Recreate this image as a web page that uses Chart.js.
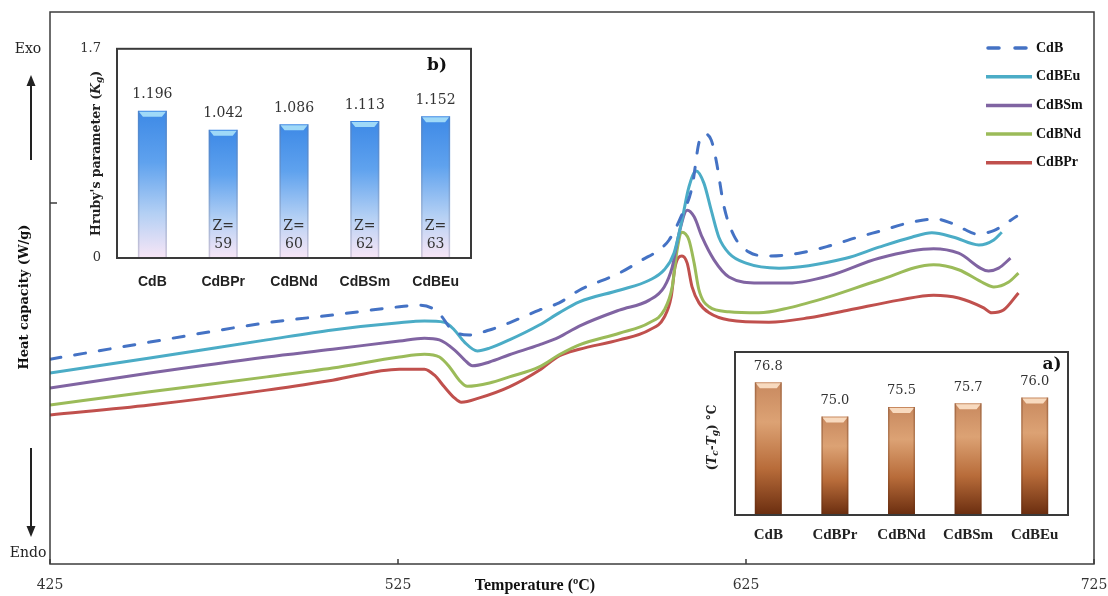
<!DOCTYPE html>
<html>
<head>
<meta charset="utf-8">
<title>DSC curves</title>
<script src="https://cdn.jsdelivr.net/npm/chart.js@4.4.1/dist/chart.umd.min.js"></script>
<style>
  body { margin: 0; background: #fff; }
  #wrap { position: relative; width: 1108px; height: 596px; }
  #wrap canvas { position: absolute; }
</style>
</head>
<body>
<div id="wrap">
  <canvas id="dscChart" width="1108" height="596" style="left:0;top:0"></canvas>
  <canvas id="hrubyChart" width="405" height="275" style="left:75px;top:25px"></canvas>
  <canvas id="stabilityChart" width="380" height="210" style="left:700px;top:340px"></canvas>
</div>
<script>
// ---- data (heat flow in arbitrary units) ----
const temperatureTicks = [425, 525, 625, 725];
const heatTickMarks = [65.4];

const cdbTemp = [425, 453.7, 487.3, 506.2, 525.4, 531.2, 534.6, 537.5, 539.8, 542.6, 545.5, 551.3, 557.0, 565.6, 571.3, 577.1, 588.6, 595.2, 600.0, 602.9, 606.3, 609.5, 611.5, 613.2, 615.0, 616.4, 618.7, 621.6, 625.9, 631.6, 640.2, 648.8, 656.6, 664.0, 671.8, 679.5, 683.8, 687.5, 691.3, 696.2, 702.8];
const cdbHeat = [37.1, 40.2, 43.7, 45.1, 46.6, 46.9, 46.4, 44.9, 42.9, 41.7, 41.5, 42.4, 43.7, 46.0, 47.3, 49.6, 52.7, 55.1, 56.9, 58.7, 62.9, 68.3, 76.4, 77.9, 76.8, 73.2, 64.7, 59.4, 56.5, 55.8, 56.3, 57.6, 59.1, 60.4, 61.8, 62.5, 61.8, 60.7, 59.8, 60.4, 63.0];

const euTemp = [425, 453.7, 487.3, 506.2, 525.4, 532.6, 538.3, 541.2, 544.1, 547.8, 551.3, 557.0, 565.6, 571.3, 577.1, 588.6, 597.2, 601.5, 604.3, 606.6, 608.6, 610.7, 612.9, 615.0, 617.2, 620.1, 625.0, 634.5, 653.7, 663.2, 672.6, 678.4, 684.7, 691.9, 696.2, 698.5];
const euHeat = [34.6, 37.3, 40.6, 42.4, 43.7, 44.0, 43.8, 42.4, 40.2, 38.6, 39.1, 40.6, 43.3, 45.5, 47.5, 49.6, 51.4, 53.3, 56.3, 62.3, 68.3, 71.2, 69.0, 64.1, 59.2, 56.3, 54.5, 53.6, 55.4, 57.4, 59.2, 60.0, 59.2, 57.8, 58.7, 60.1];

const smTemp = [425, 453.7, 487.3, 506.2, 525.4, 532.6, 536.9, 541.2, 544.1, 546.4, 551.3, 557.0, 565.6, 571.3, 577.1, 588.6, 597.2, 601.5, 603.8, 605.8, 608.1, 610.1, 612.4, 615.8, 620.1, 628.7, 637.3, 648.8, 663.2, 678.9, 686.1, 694.7, 697.6, 701.0];
const smHeat = [31.9, 34.6, 37.5, 38.9, 40.4, 40.9, 40.6, 38.8, 37.0, 35.9, 36.6, 37.9, 39.7, 41.1, 43.1, 46.0, 47.8, 50.2, 53.8, 60.0, 64.1, 62.9, 59.2, 55.1, 52.0, 50.9, 50.9, 52.2, 55.4, 57.1, 56.3, 53.1, 53.6, 55.4];

const ndTemp = [425, 453.7, 487.3, 506.2, 525.4, 532.6, 536.9, 539.8, 542.6, 544.9, 551.3, 557.0, 565.6, 571.3, 577.1, 588.6, 597.2, 601.5, 603.8, 605.2, 606.6, 608.6, 610.1, 611.5, 614.4, 620.1, 628.7, 637.3, 648.8, 663.2, 678.9, 686.1, 693.3, 696.2, 700.5, 703.3];
const ndHeat = [28.8, 31.2, 33.9, 35.5, 37.5, 38.0, 37.5, 35.7, 33.3, 32.2, 32.8, 33.9, 35.7, 37.9, 39.7, 41.8, 43.7, 46.0, 50.2, 56.9, 60.1, 58.7, 54.5, 49.6, 46.6, 45.7, 45.5, 46.4, 48.4, 51.4, 54.2, 53.3, 50.9, 50.2, 51.1, 52.7];

const prTemp = [425, 453.7, 487.3, 506.2, 525.4, 532.6, 535.5, 538.3, 541.2, 543.2, 548.4, 557.0, 565.6, 571.3, 577.1, 588.6, 597.2, 601.5, 603.5, 604.6, 606.6, 608.1, 609.5, 611.5, 614.4, 620.1, 631.6, 643.1, 654.6, 668.9, 678.9, 686.1, 693.3, 695.6, 699.0, 703.3];
const prHeat = [27.0, 28.8, 31.5, 33.3, 35.3, 35.3, 34.2, 32.1, 30.1, 29.3, 30.1, 32.1, 35.1, 37.7, 38.9, 40.6, 42.4, 44.7, 48.4, 53.8, 55.8, 54.5, 50.2, 47.3, 45.5, 44.2, 43.8, 44.6, 46.0, 47.8, 48.7, 48.2, 46.4, 45.5, 46.0, 49.1];

// insets
const glassLabels = ['CdB', 'CdBPr', 'CdBNd', 'CdBSm', 'CdBEu'];
const hrubyValues = [1.196, 1.042, 1.086, 1.113, 1.152];
const hrubyTicks = [0, 1.7];
const zNumbers = [null, 59, 60, 62, 63];
const stabilityValues = [76.8, 75.0, 75.5, 75.7, 76.0];

const SERIF = "'DejaVu Serif', serif";
const TIMES = "'Liberation Serif', serif";

function toPoints(xs, ys) {
    return xs.map((x, i) => ({ x: x, y: ys[i] }));
}

function series(label, xs, ys, color, dash) {
    return {
        label: label,
        data: toPoints(xs, ys),
        borderColor: color,
        borderWidth: 3,
        borderDash: dash || [],
        borderCapStyle: dash ? 'round' : 'butt',
        pointRadius: 0,
        cubicInterpolationMode: 'monotone',
        fill: false
    };
}

function drawArrow(ctx, x, from, tip) {
    const dir = Math.sign(tip - from);
    ctx.beginPath();
    ctx.moveTo(x, from);
    ctx.lineTo(x, tip - dir * 8);
    ctx.stroke();
    ctx.beginPath();
    ctx.moveTo(x, tip);
    ctx.lineTo(x - 4.5, tip - dir * 11);
    ctx.lineTo(x + 4.5, tip - dir * 11);
    ctx.closePath();
    ctx.fill();
}

// text made of parts (for subscripts), optionally rotated, centred on cx,cy
function drawRich(ctx, parts, cx, cy, rotated) {
    ctx.save();
    ctx.translate(cx, cy);
    if (rotated) ctx.rotate(-Math.PI / 2);
    ctx.textBaseline = 'middle';
    ctx.textAlign = 'left';
    let total = 0;
    parts.forEach(p => { ctx.font = p.font; total += ctx.measureText(p.text).width; });
    let pos = -total / 2;
    parts.forEach(p => {
        ctx.font = p.font;
        ctx.fillText(p.text, pos, p.dy || 0);
        pos += ctx.measureText(p.text).width;
    });
    ctx.restore();
}

// ---- main DSC chart ----
const dscDecor = {
    id: 'dscDecor',
    afterDraw(chart) {
        const { ctx, chartArea: a, scales } = chart;
        ctx.save();
        ctx.strokeStyle = '#3c3c3c';
        ctx.lineWidth = 1.5;
        ctx.strokeRect(a.left, a.top, a.right - a.left, a.bottom - a.top);

        ctx.beginPath();
        scales.x.ticks.forEach(t => {
            const px = scales.x.getPixelForValue(t.value);
            ctx.moveTo(px, a.bottom);
            ctx.lineTo(px, a.bottom - 5);
        });
        scales.y.ticks.forEach(t => {
            const py = scales.y.getPixelForValue(t.value);
            ctx.moveTo(a.left, py);
            ctx.lineTo(a.left + 7, py);
        });
        ctx.stroke();

        // Exo / Endo markers
        ctx.fillStyle = '#222';
        ctx.strokeStyle = '#222';
        ctx.lineWidth = 2;
        ctx.font = '14px ' + SERIF;
        ctx.textAlign = 'center';
        ctx.textBaseline = 'middle';
        ctx.fillText('Exo', 28, 49);
        ctx.fillText('Endo', 28, 553);
        drawArrow(ctx, 31, 160, 75);
        drawArrow(ctx, 31, 448, 537);

        // axis titles
        ctx.fillStyle = '#111';
        drawRich(ctx, [{ text: 'Heat capacity (W/g)', font: 'bold 13px ' + SERIF }], 25, 297, true);
        drawRich(ctx, [{ text: 'Temperature (ºC)', font: 'bold 16px ' + TIMES }], 535, 586, false);

        // legend
        ctx.font = 'bold 14px ' + TIMES;
        ctx.textAlign = 'left';
        ctx.textBaseline = 'middle';
        chart.data.datasets.forEach((ds, i) => {
            const ly = 48 + i * 28.7;
            ctx.save();
            ctx.strokeStyle = ds.borderColor;
            ctx.lineWidth = 3.5;
            ctx.lineCap = ds.borderDash.length ? 'round' : 'butt';
            ctx.setLineDash(ds.borderDash.length ? [11, 16] : []);
            ctx.beginPath();
            ctx.moveTo(ds.borderDash.length ? 988 : 986, ly);
            ctx.lineTo(1032, ly);
            ctx.stroke();
            ctx.restore();
            ctx.fillStyle = '#111';
            ctx.fillText(ds.label, 1036, ly);
        });
        ctx.restore();
    }
};

new Chart(document.getElementById('dscChart'), {
    type: 'line',
    data: {
        datasets: [
            series('CdB', cdbTemp, cdbHeat, '#4472c4', [11, 14]),
            series('CdBEu', euTemp, euHeat, '#4bacc6'),
            series('CdBSm', smTemp, smHeat, '#8064a2'),
            series('CdBNd', ndTemp, ndHeat, '#9bbb59'),
            series('CdBPr', prTemp, prHeat, '#c0504d')
        ]
    },
    options: {
        responsive: false,
        animation: false,
        layout: { padding: { top: 12, right: 14, left: 0, bottom: 0 } },
        plugins: { legend: { display: false }, tooltip: { enabled: false } },
        scales: {
            x: {
                type: 'linear',
                min: 425,
                max: 725,
                afterBuildTicks: s => { s.ticks = temperatureTicks.map(v => ({ value: v })); },
                afterFit: s => { s.height = 32; s.paddingLeft = 0; s.paddingRight = 0; },
                ticks: { font: { family: SERIF, size: 14 }, color: '#333', padding: 13, maxRotation: 0 },
                grid: { display: false, drawTicks: false },
                border: { display: false }
            },
            y: {
                min: 0,
                max: 100,
                afterBuildTicks: s => { s.ticks = heatTickMarks.map(v => ({ value: v })); },
                afterFit: s => { s.width = 50; s.paddingTop = 0; s.paddingBottom = 0; },
                ticks: { display: false },
                grid: { display: false, drawTicks: false },
                border: { display: false }
            }
        }
    },
    plugins: [dscDecor]
});

// ---- inset bar charts ----
function barGradient(stops) {
    return c => {
        const chart = c.chart;
        if (!chart.chartArea || c.type !== 'data') return stops[1][1];
        const yScale = chart.scales.y;
        const top = yScale.getPixelForValue(c.parsed.y);
        const bottom = chart.chartArea.bottom;
        const g = chart.ctx.createLinearGradient(0, top, 0, bottom);
        stops.forEach(s => g.addColorStop(s[0], s[1]));
        return g;
    };
}

function insetDecor(cfg) {
    return {
        id: 'insetDecor',
        afterDatasetsDraw(chart) {
            const ctx = chart.ctx;
            const a = chart.chartArea;
            const meta = chart.getDatasetMeta(0);
            ctx.save();
            meta.data.forEach((bar, i) => {
                const p = bar.getProps(['x', 'y', 'width'], true);
                const l = p.x - p.width / 2, r = p.x + p.width / 2;
                const bottom = a.bottom;
                // bevel on top
                ctx.fillStyle = cfg.capColor;
                ctx.beginPath();
                ctx.moveTo(l + 1, p.y + 1);
                ctx.lineTo(r - 1, p.y + 1);
                ctx.lineTo(r - 5, p.y + 6);
                ctx.lineTo(l + 5, p.y + 6);
                ctx.closePath();
                ctx.fill();
                // side shading
                ctx.fillStyle = cfg.edgeColor;
                ctx.fillRect(l, p.y, 1.5, bottom - p.y);
                ctx.fillRect(r - 1.5, p.y, 1.5, bottom - p.y);
                // value label
                ctx.fillStyle = '#333';
                ctx.font = cfg.valueFont;
                ctx.textAlign = 'center';
                ctx.textBaseline = 'middle';
                ctx.fillText(cfg.format(chart.data.datasets[0].data[i]), p.x, p.y - 16);
                if (cfg.inner && cfg.inner[i] != null) {
                    ctx.font = cfg.innerFont;
                    ctx.fillText('Z=', p.x, bottom - 32);
                    ctx.fillText(String(cfg.inner[i]), p.x, bottom - 14);
                }
            });
            ctx.restore();
        },
        afterDraw(chart) {
            const { ctx, chartArea: a } = chart;
            ctx.save();
            ctx.strokeStyle = '#3a3a3a';
            ctx.lineWidth = 2;
            ctx.strokeRect(a.left, a.top, a.right - a.left, a.bottom - a.top);
            ctx.fillStyle = '#111';
            ctx.font = cfg.tagFont;
            ctx.textAlign = 'center';
            ctx.textBaseline = 'middle';
            ctx.fillText(cfg.tag, a.right + cfg.tagPos[0], a.top + cfg.tagPos[1]);
            ctx.fillStyle = '#222';
            drawRich(ctx, cfg.title, a.left + cfg.titleX, (a.top + a.bottom) / 2 + (cfg.titleDy || 0), true);
            ctx.restore();
        }
    };
}

const blueStops = [[0, '#3d89e6'], [0.35, '#5fa2ee'], [0.7, '#b4d0f4'], [1, '#f8e6f6']];
const brownStops = [[0, '#c8895f'], [0.3, '#dca274'], [0.65, '#b86c3a'], [1, '#6a2d0f']];

new Chart(document.getElementById('hrubyChart'), {
    type: 'bar',
    data: {
        labels: glassLabels,
        datasets: [{
            data: hrubyValues,
            backgroundColor: barGradient(blueStops),
            borderWidth: 0,
            barPercentage: 0.41,
            categoryPercentage: 1
        }]
    },
    options: {
        responsive: false,
        animation: false,
        layout: { padding: { top: 15, right: 9, left: 0, bottom: 0 } },
        plugins: { legend: { display: false }, tooltip: { enabled: false } },
        scales: {
            x: {
                afterFit: s => { s.height = 42; },
                ticks: { font: { family: "'Liberation Sans', sans-serif", size: 14, weight: 'bold' }, color: '#222', padding: 16 },
                grid: { display: false, drawTicks: false },
                border: { display: false }
            },
            y: {
                min: 0,
                max: 1.7,
                afterBuildTicks: s => { s.ticks = hrubyTicks.map(v => ({ value: v })); },
                afterFit: s => { s.width = 42; },
                ticks: { font: { family: SERIF, size: 13 }, color: '#333', padding: 16 },
                grid: { display: false, drawTicks: false },
                border: { display: false }
            }
        }
    },
    plugins: [insetDecor({
        capColor: 'rgba(170,225,250,0.9)',
        edgeColor: 'rgba(110,120,150,0.3)',
        valueFont: '14px ' + SERIF,
        innerFont: '14px ' + SERIF,
        inner: zNumbers,
        format: v => v.toFixed(3),
        tag: 'b)',
        tagFont: 'bold 17px ' + SERIF,
        tagPos: [-34, 17],
        titleX: -20,
        title: [
            { text: "Hruby's parameter (", font: 'bold 12.5px ' + SERIF },
            { text: 'K', font: 'bold italic 12.5px ' + SERIF },
            { text: 'g', font: 'bold italic 9px ' + SERIF, dy: 3 },
            { text: ')', font: 'bold 12.5px ' + SERIF }
        ]
    })]
});

new Chart(document.getElementById('stabilityChart'), {
    type: 'bar',
    data: {
        labels: glassLabels,
        datasets: [{
            data: stabilityValues,
            backgroundColor: barGradient(brownStops),
            borderWidth: 0,
            barPercentage: 0.405,
            categoryPercentage: 1
        }]
    },
    options: {
        responsive: false,
        animation: false,
        layout: { padding: { top: 12, right: 12, left: 0, bottom: 0 } },
        plugins: { legend: { display: false }, tooltip: { enabled: false } },
        scales: {
            x: {
                afterFit: s => { s.height = 35; },
                ticks: { font: { family: TIMES, size: 15, weight: 'bold' }, color: '#222', padding: 11 },
                grid: { display: false, drawTicks: false },
                border: { display: false }
            },
            y: {
                min: 69.8,
                max: 78.4,
                afterFit: s => { s.width = 35; },
                ticks: { display: false },
                grid: { display: false, drawTicks: false },
                border: { display: false }
            }
        }
    },
    plugins: [insetDecor({
        capColor: 'rgba(250,222,196,0.95)',
        edgeColor: 'rgba(90,40,15,0.3)',
        valueFont: '13px ' + SERIF,
        format: v => v.toFixed(1),
        tag: 'a)',
        tagFont: 'bold 17px ' + SERIF,
        tagPos: [-16, 13],
        titleX: -22,
        titleDy: 4,
        title: [
            { text: '(', font: 'bold 12px ' + SERIF },
            { text: 'T', font: 'bold italic 12px ' + SERIF },
            { text: 'c', font: 'bold italic 9px ' + SERIF, dy: 3 },
            { text: '-', font: 'bold 12px ' + SERIF },
            { text: 'T', font: 'bold italic 12px ' + SERIF },
            { text: 'g', font: 'bold italic 9px ' + SERIF, dy: 3 },
            { text: ') °C', font: 'bold 12px ' + SERIF }
        ]
    })]
});
</script>
</body>
</html>
